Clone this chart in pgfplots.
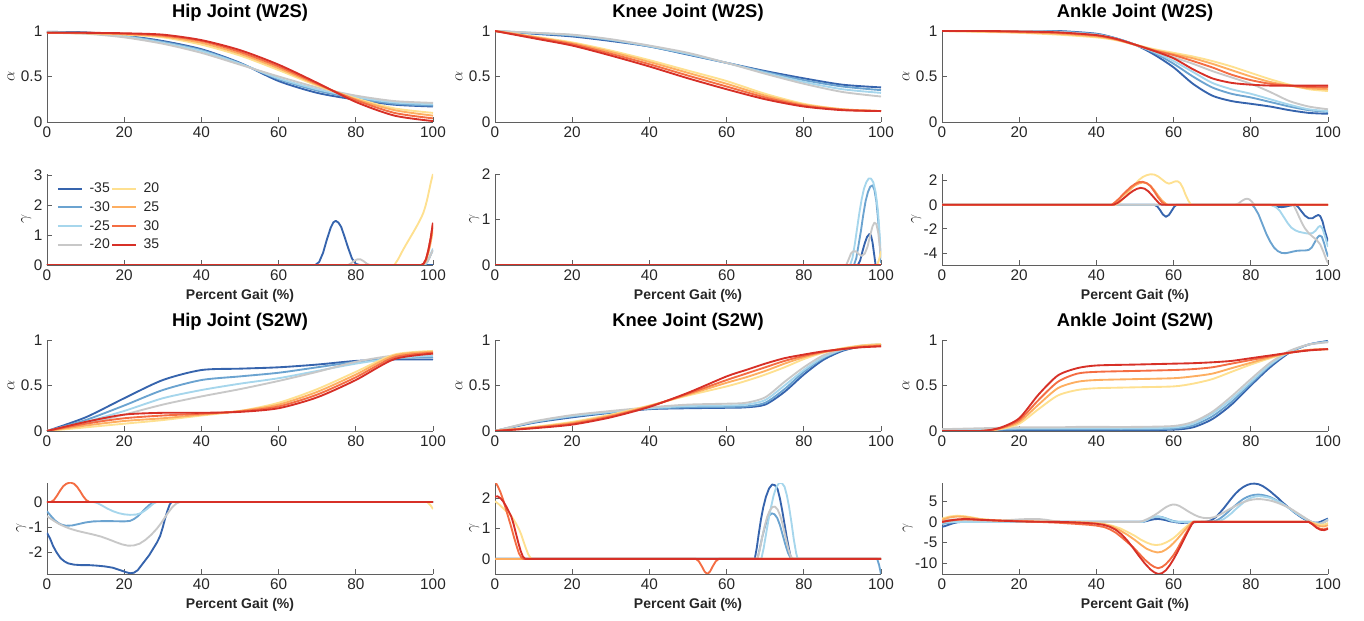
\documentclass[border=0pt]{standalone}
\usepackage{pgfplots}
\pgfplotsset{compat=1.18}
\usepackage{fontspec}
\setmainfont{Liberation Sans}
\definecolor{c1}{RGB}{54,100,173}
\definecolor{c2}{RGB}{107,163,208}
\definecolor{c3}{RGB}{166,214,236}
\definecolor{c4}{RGB}{200,200,200}
\definecolor{c5}{RGB}{254,224,144}
\definecolor{c6}{RGB}{253,174,97}
\definecolor{c7}{RGB}{244,109,67}
\definecolor{c8}{RGB}{215,48,39}
\definecolor{axc}{RGB}{95,95,95}
\definecolor{txc}{RGB}{38,38,38}
\pgfplotscreateplotcyclelist{gait}{
{c1,line width=1.4pt,smooth,tension=0.45},
{c2,line width=1.4pt,smooth,tension=0.45},
{c3,line width=1.4pt,smooth,tension=0.45},
{c4,line width=1.4pt,smooth,tension=0.45},
{c5,line width=1.4pt,smooth,tension=0.45},
{c6,line width=1.4pt,smooth,tension=0.45},
{c7,line width=1.4pt,smooth,tension=0.45},
{c8,line width=1.4pt,smooth,tension=0.45}}
\pgfplotscreateplotcyclelist{gaitsharp}{
{c1,line width=1.4pt,sharp plot,line join=round},
{c2,line width=1.4pt,sharp plot,line join=round},
{c3,line width=1.4pt,sharp plot,line join=round},
{c4,line width=1.4pt,sharp plot,line join=round},
{c5,line width=1.4pt,sharp plot,line join=round},
{c6,line width=1.4pt,sharp plot,line join=round},
{c7,line width=1.4pt,sharp plot,line join=round},
{c8,line width=1.4pt,sharp plot,line join=round}}
\pgfplotsset{
 gbase/.style={scale only axis, width=289.5pt, height=68.25pt, anchor=south west,
  xmin=0, xmax=100, xtick={0,20,40,60,80,100},
  axis x line*=bottom, axis y line*=left,
  axis line style={draw=axc, line width=0.6pt, -},
  tick style={draw=axc, line width=0.6pt}, tick align=inside, major tick length=3.5pt,
  ticklabel style={font=\fontsize{11.5}{13}\selectfont, text=txc},
  /pgf/number format/assume math mode=true,
  title style={font=\bfseries\fontsize{13.8}{16}\selectfont, yshift=-2pt},
  xlabel style={font=\bfseries\fontsize{10.5}{12}\selectfont, text=txc},
  ylabel style={font=\fontsize{12.5}{15}\selectfont, text=txc},
  clip=true},
 alph/.style={gbase, cycle list name=gait, ymin=0, ymax=1, ytick={0,0.5,1}, ylabel={$\alpha$}, ylabel shift=-2pt},
 gam/.style={gbase, cycle list name=gaitsharp, ylabel={$\gamma$}, xlabel={Percent Gait (\%)}, ylabel shift=-5pt},
}
\begin{document}
\begin{tikzpicture}
\useasboundingbox (0,0) rectangle (1023pt,465.75pt);
% ---------------- Row 1: alpha W2S
\begin{axis}[alph, at={(35.25pt,374.25pt)}, title={Hip Joint (W2S)}]
\addplot coordinates {(0,0.99)(10,0.985)(20,0.95)(30,0.89)(40,0.80)(50,0.65)(60,0.45)(70,0.32)(80,0.245)(90,0.19)(100,0.17)};
\addplot coordinates {(0,0.985)(10,0.98)(20,0.945)(30,0.88)(40,0.79)(50,0.645)(60,0.47)(70,0.345)(80,0.26)(90,0.2)(100,0.18)};
\addplot coordinates {(0,0.985)(10,0.975)(20,0.94)(30,0.87)(40,0.78)(50,0.64)(60,0.48)(70,0.36)(80,0.275)(90,0.215)(100,0.195)};
\addplot coordinates {(0,0.98)(10,0.97)(20,0.93)(30,0.86)(40,0.76)(50,0.63)(60,0.5)(70,0.38)(80,0.29)(90,0.23)(100,0.21)};
\addplot coordinates {(0,0.98)(10,0.975)(20,0.96)(30,0.93)(40,0.85)(50,0.73)(60,0.57)(70,0.40)(80,0.26)(90,0.15)(100,0.10)};
\addplot coordinates {(0,0.98)(10,0.975)(20,0.965)(30,0.94)(40,0.87)(50,0.75)(60,0.59)(70,0.41)(80,0.25)(90,0.13)(100,0.07)};
\addplot coordinates {(0,0.98)(10,0.98)(20,0.97)(30,0.95)(40,0.89)(50,0.77)(60,0.61)(70,0.42)(80,0.24)(90,0.10)(100,0.04)};
\addplot coordinates {(0,0.98)(10,0.98)(20,0.975)(30,0.96)(40,0.90)(50,0.79)(60,0.63)(70,0.43)(80,0.22)(90,0.07)(100,0.01)};
\end{axis}
\begin{axis}[alph, at={(371.25pt,374.25pt)}, title={Knee Joint (W2S)}]
\addplot coordinates {(0,1)(10,0.97)(20,0.94)(30,0.89)(40,0.83)(50,0.74)(60,0.65)(70,0.56)(80,0.48)(90,0.41)(100,0.38)};
\addplot coordinates {(0,1)(10,0.975)(20,0.95)(30,0.90)(40,0.83)(50,0.745)(60,0.65)(70,0.55)(80,0.46)(90,0.39)(100,0.35)};
\addplot coordinates {(0,1)(10,0.98)(20,0.955)(30,0.905)(40,0.835)(50,0.75)(60,0.65)(70,0.54)(80,0.44)(90,0.36)(100,0.32)};
\addplot coordinates {(0,1)(10,0.98)(20,0.96)(30,0.91)(40,0.84)(50,0.76)(60,0.65)(70,0.53)(80,0.42)(90,0.33)(100,0.28)};
\addplot coordinates {(0,1)(10,0.94)(20,0.875)(30,0.785)(40,0.68)(50,0.565)(60,0.45)(70,0.31)(80,0.2)(90,0.14)(100,0.12)};
\addplot coordinates {(0,1)(10,0.935)(20,0.865)(30,0.77)(40,0.66)(50,0.54)(60,0.42)(70,0.29)(80,0.19)(90,0.14)(100,0.12)};
\addplot coordinates {(0,1)(10,0.93)(20,0.855)(30,0.75)(40,0.635)(50,0.51)(60,0.39)(70,0.27)(80,0.18)(90,0.135)(100,0.12)};
\addplot coordinates {(0,1)(10,0.92)(20,0.84)(30,0.73)(40,0.61)(50,0.48)(60,0.36)(70,0.25)(80,0.17)(90,0.13)(100,0.12)};
\end{axis}
\begin{axis}[alph, at={(706.5pt,374.25pt)}, title={Ankle Joint (W2S)}]
\addplot coordinates {(0,1)(10,1)(20,1)(30,1)(40,0.97)(45,0.92)(50,0.85)(55,0.74)(60,0.6)(65,0.42)(70,0.29)(75,0.23)(80,0.2)(85,0.17)(90,0.13)(95,0.1)(100,0.09)};
\addplot coordinates {(0,1)(10,1)(20,1)(30,0.995)(40,0.965)(45,0.92)(50,0.85)(55,0.76)(60,0.64)(65,0.5)(70,0.38)(75,0.31)(80,0.27)(85,0.22)(90,0.17)(95,0.13)(100,0.11)};
\addplot coordinates {(0,1)(10,1)(20,1)(30,0.99)(40,0.96)(45,0.915)(50,0.85)(55,0.77)(60,0.67)(65,0.55)(70,0.43)(75,0.36)(80,0.31)(85,0.25)(90,0.19)(95,0.14)(100,0.12)};
\addplot coordinates {(0,1)(10,1)(20,0.995)(30,0.985)(40,0.955)(45,0.91)(50,0.845)(55,0.78)(60,0.71)(65,0.64)(70,0.56)(75,0.49)(80,0.42)(85,0.33)(90,0.23)(95,0.17)(100,0.14)};
\addplot coordinates {(0,1)(10,0.99)(20,0.98)(30,0.96)(40,0.93)(45,0.9)(50,0.85)(55,0.8)(60,0.76)(65,0.72)(70,0.67)(75,0.61)(80,0.54)(85,0.47)(90,0.41)(95,0.36)(100,0.34)};
\addplot coordinates {(0,1)(10,0.995)(20,0.985)(30,0.97)(40,0.94)(45,0.905)(50,0.85)(55,0.79)(60,0.745)(65,0.7)(70,0.64)(75,0.57)(80,0.5)(85,0.44)(90,0.40)(95,0.37)(100,0.36)};
\addplot coordinates {(0,1)(10,1)(20,0.99)(30,0.98)(40,0.95)(45,0.91)(50,0.85)(55,0.785)(60,0.735)(65,0.67)(70,0.6)(75,0.52)(80,0.46)(85,0.42)(90,0.40)(95,0.385)(100,0.38)};
\addplot coordinates {(0,1)(10,1)(20,0.995)(30,0.985)(40,0.955)(45,0.915)(50,0.85)(55,0.78)(60,0.70)(65,0.58)(70,0.48)(75,0.43)(80,0.41)(85,0.40)(90,0.40)(95,0.40)(100,0.40)};
\end{axis}
% ---------------- Row 2: gamma W2S
\begin{axis}[gam, at={(35.25pt,267pt)}, ymin=0, ymax=3.05, ytick={0,1,2,3},
  legend columns=4, transpose legend,
  legend style={at={(0.015,0.95)}, anchor=north west, draw=none, fill=none,
    font=\fontsize{10.5}{12}\selectfont, text=txc, row sep=3.2pt,
    nodes={inner sep=1pt},
    /tikz/every odd column/.append style={column sep=4pt}},
  legend image code/.code={\draw[#1,line width=1.4pt] (0pt,0pt) -- (18pt,0pt);}]
\addplot coordinates {(0,0)(69.5,0)(70.5,0.1)(71.5,0.4)(72.5,0.85)(73.5,1.25)(74.2,1.43)(74.8,1.48)(75.5,1.42)(76.2,1.28)(77,0.98)(78,0.58)(79,0.22)(80,0.04)(81,0)(100,0)};
\addplot coordinates {(0,0)(96.5,0)(97.3,-0.05)(98,0.02)(98.6,0.12)(99.2,0.28)(99.6,0.4)(100,0.5)};
\addplot coordinates {(0,0)(96.5,0)(97.3,-0.05)(98,0.02)(98.6,0.13)(99.2,0.3)(99.6,0.42)(100,0.55)};
\addplot coordinates {(0,0)(78,0)(78.8,0.06)(79.6,0.14)(80.4,0.19)(81.2,0.19)(82,0.13)(82.8,0.05)(83.6,0)(97,0)(97.8,0.04)(98.6,0.12)(99.2,0.28)(99.6,0.4)(100,0.5)};
\addplot coordinates {(0,0)(90,0)(91,0.2)(92,0.45)(93,0.68)(94,0.9)(95,1.12)(96,1.35)(97,1.6)(97.5,1.75)(98,1.95)(98.5,2.2)(99,2.5)(99.5,2.8)(100,3.05)};
\addplot coordinates {(0,0)(97,0)(97.6,0.04)(98.2,0.15)(98.8,0.4)(99.4,0.75)(100,1.2)};
\addplot coordinates {(0,0)(97,0)(97.6,0.05)(98.2,0.2)(98.8,0.5)(99.4,0.9)(100,1.4)};
\addplot coordinates {(0,0)(97,0)(97.6,0.05)(98.2,0.2)(98.8,0.5)(99.4,0.9)(100,1.42)};
\legend{-35,-30,-25,-20,20,25,30,35}
\end{axis}
\begin{axis}[gam, at={(371.25pt,267pt)}, ymin=0, ymax=2, ytick={0,1,2}]
\addplot coordinates {(0,0)(94,0)(94.6,0.1)(95.2,0.3)(95.8,0.48)(96.4,0.62)(97,0.68)(97.4,0.65)(97.8,0.5)(98.2,0.25)(98.6,0)(100,0)};
\addplot coordinates {(0,0)(93,0)(93.6,0.15)(94.2,0.45)(94.8,0.75)(95.4,1.1)(96,1.4)(96.6,1.6)(97.2,1.72)(97.8,1.75)(98.3,1.65)(98.8,1.4)(99.3,0.95)(99.7,0.45)(100,0.05)};
\addplot coordinates {(0,0)(92,0)(92.6,0.15)(93.2,0.45)(93.8,0.8)(94.4,1.15)(95,1.45)(95.6,1.68)(96.2,1.82)(96.8,1.9)(97.4,1.9)(98,1.82)(98.6,1.6)(99.2,1.2)(99.7,0.6)(100,0.15)};
\addplot coordinates {(0,0)(91,0)(91.6,0.12)(92.2,0.25)(92.8,0.3)(93.5,0.3)(94.2,0.24)(95,0.2)(95.8,0.25)(96.5,0.4)(97.2,0.65)(97.8,0.85)(98.3,0.93)(98.8,0.9)(99.3,0.7)(99.7,0.4)(100,0.15)};
\addplot coordinates {(0,0)(99,0)(99.5,0.12)(100,0.3)};
\addplot coordinates {(0,0)(100,0)};
\addplot coordinates {(0,0)(100,0)};
\addplot coordinates {(0,0)(100,0)};
\end{axis}
\begin{axis}[gam, at={(706.5pt,267pt)}, ymin=-5, ymax=2.55, ytick={-4,-2,0,2}]
\addplot coordinates {(0,0)(55,0)(55.8,-0.15)(56.5,-0.45)(57.2,-0.8)(58,-1.0)(58.8,-0.85)(59.5,-0.5)(60.2,-0.15)(60.8,0)(85,0)(86,-0.08)(87,-0.17)(88,-0.2)(89,-0.16)(90,-0.08)(91.5,0)(92.3,-0.2)(93,-0.5)(94,-0.9)(95,-1.12)(96,-1.12)(96.8,-0.95)(97.5,-0.85)(98,-0.95)(98.6,-1.4)(99.2,-2.2)(100,-3.05)};
\addplot coordinates {(0,0)(80.3,0)(81,-0.25)(82,-0.8)(83,-1.6)(84,-2.4)(85,-3.05)(86,-3.55)(87,-3.85)(88,-4.0)(89,-4.02)(90,-3.96)(91,-3.88)(92,-3.82)(93,-3.8)(94,-3.8)(95,-3.75)(95.8,-3.55)(96.5,-3.15)(97.2,-2.75)(97.8,-2.55)(98.4,-2.65)(99,-3.2)(99.5,-3.8)(100,-4.3)};
\addplot coordinates {(0,0)(84.5,0)(85.5,-0.05)(86.5,-0.2)(87.5,-0.5)(88.5,-1.0)(89.5,-1.5)(90.5,-1.9)(91.5,-2.12)(92.5,-2.25)(94,-2.35)(95,-2.4)(96,-2.35)(96.8,-2.15)(97.5,-1.85)(98,-1.75)(98.6,-2.0)(99.3,-2.7)(100,-3.5)};
\addplot coordinates {(0,0)(76,0)(76.8,0.1)(77.6,0.3)(78.4,0.45)(79,0.5)(79.6,0.45)(80.2,0.28)(80.7,0.08)(81,0)(91,0)(91.8,-0.5)(92.5,-1.0)(93.3,-1.55)(94,-1.95)(95,-2.35)(96,-2.65)(97,-2.9)(98,-3.3)(98.8,-3.9)(99.5,-4.5)(100,-4.85)};
\addplot coordinates {(0,0)(45,0)(46,0.2)(47,0.5)(48,0.9)(49,1.3)(50,1.7)(51,2.05)(52,2.3)(53,2.45)(54,2.53)(55,2.5)(56,2.35)(57,2.1)(58,1.85)(58.8,1.75)(59.5,1.82)(60.3,1.93)(61,1.95)(61.7,1.8)(62.4,1.4)(63,0.9)(63.8,0.35)(64.5,0)(100,0)};
\addplot coordinates {(0,0)(44,0)(45,0.2)(46,0.5)(47,0.8)(48,1.1)(49,1.38)(50,1.6)(51,1.76)(52,1.85)(53,1.78)(54,1.58)(55,1.2)(56,0.75)(57,0.35)(58,0.08)(58.5,0)(100,0)};
\addplot coordinates {(0,0)(44,0)(45,0.25)(46,0.55)(47,0.9)(48,1.2)(49,1.5)(50,1.72)(51,1.87)(52,1.9)(53,1.8)(54,1.55)(55,1.1)(56,0.6)(57,0.2)(58,0)(100,0)};
\addplot coordinates {(0,0)(44.5,0)(45.5,0.15)(46.5,0.4)(47.5,0.65)(48.5,0.92)(49.5,1.15)(50.5,1.32)(51.5,1.4)(52.5,1.33)(53.5,1.1)(54.5,0.75)(55.5,0.38)(56.3,0.1)(57,0)(100,0)};
\end{axis}
% ---------------- Row 3: alpha S2W
\begin{axis}[alph, at={(35.25pt,142.5pt)}, title={Hip Joint (S2W)}]
\addplot coordinates {(0,0)(10,0.15)(20,0.36)(30,0.56)(40,0.67)(50,0.685)(60,0.7)(70,0.73)(80,0.77)(90,0.785)(100,0.785)};
\addplot coordinates {(0,0)(10,0.12)(20,0.28)(30,0.45)(40,0.56)(50,0.6)(60,0.64)(70,0.7)(80,0.76)(90,0.8)(100,0.81)};
\addplot coordinates {(0,0)(10,0.1)(20,0.22)(30,0.36)(40,0.45)(50,0.52)(60,0.58)(70,0.66)(80,0.74)(90,0.8)(100,0.83)};
\addplot coordinates {(0,0)(10,0.08)(20,0.18)(30,0.29)(40,0.38)(50,0.46)(60,0.55)(70,0.65)(80,0.76)(90,0.83)(100,0.85)};
\addplot coordinates {(0,0)(10,0.04)(20,0.08)(30,0.12)(40,0.17)(50,0.22)(60,0.31)(70,0.46)(80,0.65)(90,0.84)(100,0.88)};
\addplot coordinates {(0,0)(10,0.06)(20,0.11)(30,0.14)(40,0.18)(50,0.22)(60,0.29)(70,0.43)(80,0.62)(90,0.83)(100,0.87)};
\addplot coordinates {(0,0)(10,0.08)(20,0.14)(30,0.17)(40,0.19)(50,0.215)(60,0.27)(70,0.4)(80,0.59)(90,0.81)(100,0.86)};
\addplot coordinates {(0,0)(10,0.1)(20,0.18)(30,0.2)(40,0.2)(50,0.21)(60,0.25)(70,0.37)(80,0.56)(90,0.79)(100,0.85)};
\end{axis}
\begin{axis}[alph, at={(371.25pt,142.5pt)}, title={Knee Joint (S2W)}]
\addplot coordinates {(0,0)(10,0.09)(20,0.15)(30,0.2)(40,0.24)(50,0.25)(60,0.255)(65,0.26)(70,0.29)(75,0.43)(80,0.62)(85,0.78)(90,0.88)(95,0.93)(100,0.95)};
\addplot coordinates {(0,0)(10,0.095)(20,0.16)(30,0.205)(40,0.245)(50,0.26)(60,0.265)(65,0.27)(70,0.31)(75,0.46)(80,0.65)(85,0.8)(90,0.89)(95,0.93)(100,0.95)};
\addplot coordinates {(0,0)(10,0.1)(20,0.165)(30,0.21)(40,0.25)(50,0.275)(60,0.28)(65,0.29)(70,0.34)(75,0.5)(80,0.67)(85,0.81)(90,0.895)(95,0.935)(100,0.95)};
\addplot coordinates {(0,0)(10,0.105)(20,0.175)(30,0.22)(40,0.26)(50,0.29)(60,0.3)(65,0.31)(70,0.37)(75,0.54)(80,0.7)(85,0.83)(90,0.9)(95,0.94)(100,0.955)};
\addplot coordinates {(0,0)(10,0.045)(20,0.1)(30,0.18)(40,0.28)(50,0.39)(60,0.49)(65,0.55)(70,0.62)(75,0.7)(80,0.79)(85,0.86)(90,0.91)(95,0.94)(100,0.955)};
\addplot coordinates {(0,0)(10,0.04)(20,0.09)(30,0.17)(40,0.275)(50,0.4)(60,0.53)(65,0.59)(70,0.66)(75,0.74)(80,0.81)(85,0.865)(90,0.905)(95,0.935)(100,0.945)};
\addplot coordinates {(0,0)(10,0.035)(20,0.08)(30,0.16)(40,0.27)(50,0.41)(60,0.56)(65,0.63)(70,0.7)(75,0.77)(80,0.825)(85,0.87)(90,0.9)(95,0.925)(100,0.935)};
\addplot coordinates {(0,0)(10,0.03)(20,0.07)(30,0.15)(40,0.265)(50,0.42)(60,0.6)(65,0.67)(70,0.74)(75,0.8)(80,0.84)(85,0.875)(90,0.9)(95,0.92)(100,0.93)};
\end{axis}
\begin{axis}[alph, at={(706.5pt,142.5pt)}, title={Ankle Joint (S2W)}]
\addplot coordinates {(0,0)(10,0)(15,0.005)(20,0.01)(25,0.01)(30,0.01)(35,0.01)(40,0.01)(50,0.01)(60,0.015)(65,0.04)(70,0.13)(75,0.29)(80,0.5)(85,0.7)(90,0.86)(95,0.95)(100,0.99)};
\addplot coordinates {(0,0.005)(10,0.01)(15,0.015)(20,0.02)(25,0.02)(30,0.02)(35,0.02)(40,0.02)(50,0.02)(60,0.025)(65,0.06)(70,0.16)(75,0.32)(80,0.52)(85,0.72)(90,0.87)(95,0.95)(100,0.985)};
\addplot coordinates {(0,0.01)(10,0.02)(15,0.025)(20,0.03)(25,0.03)(30,0.03)(35,0.03)(40,0.03)(50,0.03)(60,0.04)(65,0.08)(70,0.19)(75,0.35)(80,0.54)(85,0.73)(90,0.87)(95,0.95)(100,0.98)};
\addplot coordinates {(0,0.02)(10,0.03)(15,0.035)(20,0.04)(25,0.04)(30,0.04)(35,0.045)(40,0.045)(50,0.045)(60,0.055)(65,0.1)(70,0.21)(75,0.38)(80,0.57)(85,0.75)(90,0.88)(95,0.95)(100,0.975)};
\addplot coordinates {(0,0)(10,0)(15,0.02)(20,0.08)(25,0.24)(30,0.39)(35,0.45)(40,0.47)(50,0.48)(60,0.49)(65,0.52)(70,0.57)(75,0.65)(80,0.73)(85,0.8)(90,0.86)(95,0.89)(100,0.9)};
\addplot coordinates {(0,0)(10,0)(15,0.025)(20,0.1)(25,0.29)(30,0.47)(35,0.54)(40,0.56)(50,0.57)(60,0.58)(65,0.6)(70,0.63)(75,0.69)(80,0.75)(85,0.81)(90,0.86)(95,0.89)(100,0.9)};
\addplot coordinates {(0,0)(10,0)(15,0.03)(20,0.12)(25,0.34)(30,0.54)(35,0.63)(40,0.65)(50,0.66)(60,0.67)(65,0.68)(70,0.7)(75,0.74)(80,0.78)(85,0.82)(90,0.86)(95,0.89)(100,0.9)};
\addplot coordinates {(0,0)(10,0)(15,0.035)(20,0.14)(25,0.4)(30,0.61)(35,0.69)(40,0.72)(50,0.73)(60,0.74)(65,0.745)(70,0.755)(75,0.77)(80,0.8)(85,0.83)(90,0.86)(95,0.885)(100,0.9)};
\end{axis}
% ---------------- Row 4: gamma S2W
\begin{axis}[gam, at={(35.25pt,35.25pt)}, ymin=-2.85, ymax=0.75, ytick={-2,-1,0}]
\addplot coordinates {(0,-1.22)(0.8,-1.45)(1.6,-1.75)(2.5,-2.0)(3.5,-2.22)(4.5,-2.35)(5.5,-2.43)(7,-2.48)(9,-2.5)(11,-2.5)(13,-2.52)(15,-2.55)(17,-2.6)(19,-2.7)(20.5,-2.78)(21.5,-2.82)(22.5,-2.8)(23.5,-2.7)(24.5,-2.5)(25.5,-2.3)(26.5,-2.1)(27.5,-1.85)(28.5,-1.6)(29.3,-1.35)(30,-1.0)(30.6,-0.65)(31.2,-0.35)(31.8,-0.1)(32.3,0)(100,0)};
\addplot coordinates {(0,-0.37)(1,-0.55)(2,-0.72)(3,-0.84)(4,-0.91)(5,-0.94)(6.5,-0.93)(8,-0.88)(10,-0.81)(12,-0.77)(14,-0.76)(17,-0.76)(20,-0.77)(21.5,-0.75)(22.5,-0.68)(23.5,-0.57)(24.5,-0.42)(25.5,-0.26)(26.5,-0.12)(27.5,-0.03)(28.4,0)(100,0)};
\addplot coordinates {(0,0)(12,0)(13,-0.04)(14,-0.12)(15.5,-0.25)(17,-0.36)(18.5,-0.44)(20,-0.49)(21.5,-0.51)(23,-0.5)(24,-0.46)(25,-0.38)(26,-0.27)(27,-0.14)(27.8,-0.04)(28.4,0)(100,0)};
\addplot coordinates {(0,-0.56)(1.5,-0.72)(3,-0.86)(4.5,-0.97)(6,-1.06)(8,-1.15)(10,-1.22)(12,-1.29)(14,-1.37)(16,-1.48)(18,-1.6)(19.5,-1.68)(21,-1.73)(22.5,-1.72)(24,-1.65)(25.5,-1.5)(27,-1.3)(28.5,-1.05)(29.5,-0.85)(30.5,-0.62)(31.5,-0.4)(32.5,-0.2)(33.5,-0.06)(34.5,0)(100,0)};
\addplot coordinates {(0,0)(98.5,0)(99.3,-0.12)(100,-0.28)};
\addplot coordinates {(0,0)(100,0)};
\addplot coordinates {(0,0)(1,0)(1.8,0.08)(2.6,0.25)(3.4,0.45)(4.2,0.62)(5,0.72)(6,0.77)(7,0.72)(7.8,0.6)(8.6,0.42)(9.4,0.22)(10.2,0.07)(11,0)(100,0)};
\addplot coordinates {(0,0)(100,0)};
\end{axis}
\begin{axis}[gam, at={(371.25pt,35.25pt)}, ymin=-0.5, ymax=2.5, ytick={0,1,2}]
\addplot coordinates {(0,0)(67.3,0)(67.8,0.35)(68.3,0.8)(68.9,1.3)(69.5,1.7)(70.2,2.05)(71,2.32)(71.8,2.45)(72.5,2.43)(73.2,2.3)(73.8,2.0)(74.4,1.6)(75,1.15)(75.6,0.7)(76.2,0.3)(76.7,0)(100,0)};
\addplot coordinates {(0,0)(68,0)(68.6,0.35)(69.2,0.7)(69.8,1.0)(70.4,1.25)(71,1.42)(71.7,1.5)(72.4,1.47)(73.1,1.35)(73.8,1.12)(74.5,0.8)(75.2,0.48)(75.9,0.2)(76.5,0.05)(77,0)(99,0)(99.5,-0.2)(100,-0.5)};
\addplot coordinates {(0,0)(69,0)(69.6,0.35)(70.2,0.8)(70.8,1.25)(71.5,1.7)(72.2,2.1)(72.9,2.37)(73.6,2.5)(74.3,2.5)(75,2.38)(75.6,2.1)(76.2,1.7)(76.8,1.2)(77.4,0.65)(78,0.2)(78.4,0)(100,0)};
\addplot coordinates {(0,0)(68,0)(68.6,0.3)(69.2,0.7)(69.8,1.05)(70.5,1.38)(71.2,1.6)(71.9,1.71)(72.5,1.72)(73.2,1.63)(73.9,1.42)(74.6,1.1)(75.3,0.7)(76,0.32)(76.6,0.08)(77.2,0)(100,0)};
\addplot coordinates {(0,1.9)(1,1.8)(2,1.68)(3,1.56)(4,1.45)(4.8,1.3)(5.5,1.15)(6.2,0.98)(6.8,0.8)(7.4,0.57)(8,0.35)(8.6,0.15)(9.2,0.03)(9.6,0)(100,0)};
\addplot coordinates {(0,0)(100,0)};
\addplot coordinates {(0,2.55)(0.7,2.4)(1.4,2.2)(2.1,1.95)(2.8,1.65)(3.5,1.35)(4.2,1.05)(4.9,0.72)(5.6,0.42)(6.2,0.18)(6.8,0.05)(7.3,0)(52,0)(52.8,-0.08)(53.6,-0.25)(54.3,-0.42)(55,-0.5)(55.7,-0.42)(56.4,-0.25)(57.2,-0.08)(58,0)(100,0)};
\addplot coordinates {(0,2.05)(0.7,2.06)(1.4,2.0)(2.1,1.9)(2.8,1.75)(3.5,1.58)(4.2,1.4)(4.8,1.15)(5.4,0.85)(6,0.55)(6.6,0.28)(7.2,0.08)(7.8,0)(100,0)};
\end{axis}
\begin{axis}[gam, at={(706.5pt,35.25pt)}, ymin=-12.6, ymax=9.4, ytick={-10,-5,0,5}]
\addplot coordinates {(0,-1.2)(1,-0.95)(2,-0.6)(3,-0.3)(4,-0.1)(5,-0.02)(6,0)(52,0)(53,0.2)(54,0.45)(55,0.65)(56,0.7)(57,0.6)(58,0.4)(59,0.15)(60,0)(61,-0.15)(62,-0.24)(63,-0.22)(64,-0.15)(65,-0.08)(66.5,-0.02)(68,0)(69,0.15)(70,0.5)(71,1.2)(72,2.2)(73,3.3)(74,4.5)(75,5.7)(76,6.8)(77,7.7)(78,8.4)(79,8.9)(80,9.2)(81,9.25)(82,9.1)(83,8.7)(84,8.1)(85,7.4)(86,6.6)(87,5.8)(88,4.9)(89,4.1)(90,3.3)(91,2.5)(92,1.8)(93,1.15)(94,0.6)(95,0.2)(96,-0.1)(96.7,-0.2)(97.5,-0.15)(98,0)(99,0.4)(100,0.8)};
\addplot coordinates {(0,-0.5)(1,-0.35)(2,-0.2)(3.5,-0.05)(5,0)(52,0)(53,0.4)(54,0.85)(55,1.2)(56,1.3)(57,1.15)(58,0.85)(59,0.5)(60,0.2)(61,0.05)(62,0)(70,0)(71,0.3)(72,0.8)(73,1.5)(74,2.3)(75,3.2)(76,4.0)(77,4.8)(78,5.5)(79,6.0)(80,6.35)(81,6.55)(82,6.6)(83,6.5)(84,6.3)(85,6.0)(86,5.55)(87,5.05)(88,4.5)(89,3.9)(90,3.25)(91,2.6)(92,1.95)(93,1.35)(94,0.8)(95,0.3)(96,-0.1)(97,-0.4)(98,-0.5)(99,-0.1)(100,0.5)};
\addplot coordinates {(0,-0.2)(2.5,-0.05)(5,0)(52,0)(53,0.4)(54,0.9)(55,1.2)(56,1.3)(57,1.1)(58,0.8)(59,0.4)(60,0.1)(61,0.02)(62,0)(71,0)(72,0.25)(73,0.7)(74,1.35)(75,2.1)(76,3.0)(77,3.8)(78,4.6)(79,5.3)(80,5.8)(81,6.1)(82,6.2)(83,6.15)(84,6.0)(85,5.8)(86,5.4)(87,5.0)(88,4.5)(89,3.9)(90,3.25)(91,2.6)(92,1.95)(93,1.35)(94,0.8)(95,0.3)(96,-0.1)(97,-0.35)(98,-0.4)(99,0)(100,0.6)};
\addplot coordinates {(0,0.5)(2.5,0.55)(5,0.5)(7.5,0.4)(10,0.3)(12.5,0.28)(15,0.3)(17.5,0.45)(20,0.6)(22.5,0.7)(25,0.7)(27,0.5)(29,0.2)(31,0)(51,0)(52,0.2)(53,0.6)(54,1.05)(55,1.6)(56,2.2)(57,2.9)(58,3.55)(59,4.0)(59.8,4.2)(60.6,4.15)(61.5,3.85)(62.5,3.3)(63.5,2.7)(64.5,2.15)(65.5,1.65)(66.5,1.25)(67.5,1.0)(68.5,0.9)(69.5,0.95)(70.5,1.15)(71.5,1.5)(72.5,2.0)(73.5,2.55)(74.5,3.1)(75.5,3.6)(76.5,4.1)(77.5,4.55)(78.5,4.9)(79.5,5.2)(80.5,5.4)(81.5,5.5)(82.5,5.5)(83.5,5.4)(84.5,5.25)(85.5,5.05)(86.5,4.75)(87.5,4.4)(88.5,4.0)(89.5,3.6)(90.5,3.1)(91.5,2.5)(92.5,1.9)(93.5,1.3)(94.5,0.7)(95.5,0.15)(96.5,-0.3)(97.5,-0.5)(98.5,-0.3)(99.3,0.1)(100,0.4)};
\addplot coordinates {(0,0.8)(2,1.3)(4,1.5)(6,1.35)(8,1.05)(10,0.7)(15,0.3)(20,0.2)(25,0.08)(30,0)(35,-0.1)(38,-0.2)(40,-0.3)(42,-0.5)(44,-0.9)(46,-1.5)(48,-2.4)(50,-3.4)(51.5,-4.3)(53,-5.0)(54.3,-5.45)(55.5,-5.6)(56.8,-5.45)(58,-5.0)(59,-4.5)(60,-3.9)(61,-3.1)(62,-2.2)(63,-1.35)(64,-0.6)(65,0)(95,0)(96,-0.25)(97,-0.55)(98,-0.7)(99,-0.65)(100,-0.3)};
\addplot coordinates {(0,0.5)(2,1.1)(4,1.3)(6,1.2)(8,0.9)(10,0.6)(15,0.3)(20,0.15)(25,0.05)(30,0)(35,-0.1)(38,-0.2)(40,-0.35)(42,-0.6)(44,-1.1)(46,-2.0)(48,-3.1)(50,-4.4)(51.5,-5.5)(53,-6.5)(54.5,-7.1)(55.8,-7.4)(57,-7.2)(58,-6.7)(59,-6.0)(60,-5.1)(61,-4.1)(62,-3.0)(63,-1.9)(64,-0.9)(64.6,-0.3)(65,0)(95,0)(96,-0.35)(97,-0.8)(98,-1.05)(99,-1.1)(100,-0.8)};
\addplot coordinates {(0,0)(2,0.28)(4,0.5)(6,0.6)(8,0.56)(10,0.5)(15,0.3)(20,0.2)(25,0)(30,-0.2)(35,-0.5)(38,-0.7)(40,-0.9)(42,-1.25)(43.5,-1.8)(45,-2.6)(46.5,-3.7)(48,-4.9)(49.5,-6.1)(51,-7.6)(52.5,-9.1)(54,-10.3)(55,-10.9)(56,-11.2)(57,-10.9)(58,-10.2)(59,-9.2)(60,-8.0)(61,-6.5)(62,-4.8)(63,-3.1)(64,-1.5)(64.6,-0.5)(65,0)(95,0)(96,-0.55)(97,-1.25)(98,-1.7)(99,-1.8)(100,-1.5)};
\addplot coordinates {(0,0)(2,0.35)(4,0.6)(6,0.7)(8,0.62)(10,0.5)(15,0.3)(20,0.1)(25,0.03)(30,0)(34,-0.1)(38,-0.3)(40,-0.45)(42,-0.75)(43.5,-1.2)(45,-1.9)(46.5,-3.0)(48,-4.5)(49.5,-6.3)(51,-8.2)(52.5,-10.0)(54,-11.5)(55,-12.2)(56,-12.6)(57,-12.4)(58,-11.7)(59,-10.5)(60,-9.0)(61,-7.3)(62,-5.5)(63,-3.6)(64,-1.8)(64.7,-0.6)(65.3,0)(95,0)(96,-0.6)(97,-1.4)(98,-1.9)(99,-2.0)(100,-1.7)};
\end{axis}
\end{tikzpicture}
\end{document}
